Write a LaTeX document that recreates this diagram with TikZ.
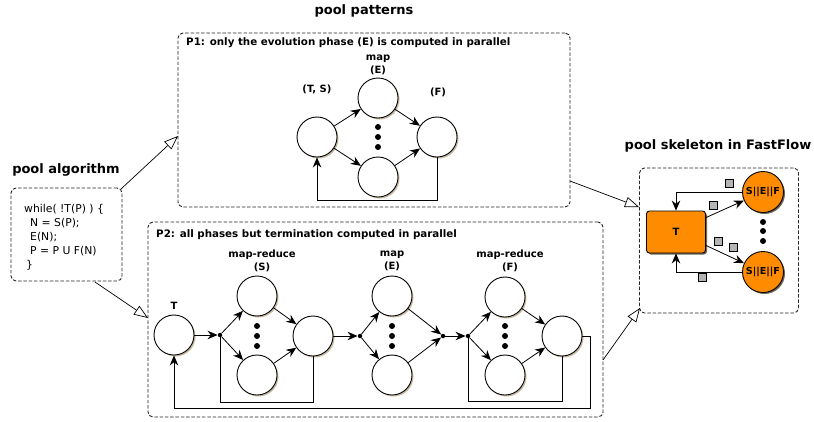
\documentclass[tikz,border=0pt]{standalone}
\usepackage{fontspec}
\setmainfont{DejaVu Sans}
\usetikzlibrary{arrows.meta,shadows}
\definecolor{shadowc}{RGB}{196,184,160}
\definecolor{ffor}{RGB}{255,140,0}
\definecolor{sqgray}{RGB}{180,180,180}
\tikzset{
  circ/.style={circle, draw, line width=0.9pt, fill=white, minimum size=40pt, inner sep=0pt,
    drop shadow={shadow xshift=1.5pt, shadow yshift=-1.5pt, fill=shadowc, opacity=1}},
  jdot/.style={circle, fill=black, inner sep=0pt, minimum size=4.5pt},
  vdot/.style={circle, fill=black, inner sep=0pt, minimum size=6pt},
  arr/.style={-{Stealth[length=10pt,width=8.5pt]}, line width=0.8pt},
  ln/.style={line width=0.8pt},
  openarr/.style={-{Triangle[open,length=14pt,width=10.5pt,fill=white]}, line width=0.7pt},
  dbox/.style={draw=black!85, dash pattern=on 3.5pt off 1.8pt, rounded corners=5pt, line width=0.9pt, inner sep=0pt},
  bigtitle/.style={font=\bfseries\fontsize{13}{16}\selectfont},
  boxtitle/.style={font=\bfseries\fontsize{10.3}{12}\selectfont, anchor=west, inner sep=0pt},
  lab/.style={font=\bfseries\fontsize{10}{13}\selectfont, align=center, inner sep=0pt},
  code/.style={font=\fontsize{10.8}{13}\selectfont, anchor=west, inner sep=0pt},
  ffcirc/.style={circle, draw, line width=0.9pt, fill=ffor, minimum size=41pt, inner sep=0pt,
    font=\bfseries\fontsize{9.6}{12}\selectfont,
    drop shadow={shadow xshift=1.5pt, shadow yshift=-1.5pt, fill=black!45!shadowc, opacity=1}},
  ffrect/.style={rectangle, draw, line width=0.9pt, fill=ffor, minimum width=59pt, minimum height=42pt,
    rounded corners=3pt, font=\bfseries\fontsize{10}{12}\selectfont,
    drop shadow={shadow xshift=1.5pt, shadow yshift=-1.5pt, fill=black!45!shadowc, opacity=1}},
  sq/.style={rectangle, draw, line width=0.6pt, fill=sqgray, minimum size=8pt, inner sep=0pt,
    drop shadow={shadow xshift=1pt, shadow yshift=-1pt, fill=black!45!shadowc, opacity=1}}
}
\begin{document}
\begin{tikzpicture}[x=1pt,y=-1pt]
\useasboundingbox (0,0) rectangle (814,421);

% ---------- pool algorithm ----------
\node[bigtitle] (talg) at (66,170) {pool algorithm};
\node[dbox, minimum width=111pt, minimum height=93pt] (alg) at (66.5,234.5) {};
\node[code] (l1) at (24,209) {while( !T(P) ) \{};
\node[code] (l2) at (30,223) {N = S(P);};
\node[code] (l3) at (30,237) {E(N);};
\node[code] (l4) at (30,251) {P = P U F(N)};
\node[code] (l5) at (26,265) {\}};

% ---------- pool patterns ----------
\node[bigtitle] (tpat) at (364,11) {pool patterns};

% P1 box
\node[dbox, minimum width=392pt, minimum height=174pt] (p1) at (374,120) {};
\node[boxtitle] (p1t) at (186,43) {P1: only the evolution phase (E) is computed in parallel};
\node[circ] (pl) at (317,137) {};
\node[circ] (pt) at (378,98) {};
\node[circ] (pb) at (378,177) {};
\node[circ] (pr) at (437,137) {};
\node[vdot] (pd1) at (378,127) {};
\node[vdot] (pd2) at (378,137) {};
\node[vdot] (pd3) at (378,147) {};
\node[lab] (plab1) at (378,65) {map\\(E)};
\node[lab] (plab2) at (317,89) {(T, S)};
\node[lab] (plab3) at (438,92) {(F)};
\draw[arr] (pl) -- (pt);
\draw[arr] (pl) -- (pb);
\draw[arr] (pt) -- (pr);
\draw[arr] (pb) -- (pr);
\draw[arr] (pr.south) -- ++(0,43) -| (pl.south);

% P2 box
\node[dbox, minimum width=455pt, minimum height=195pt] (p2) at (375.5,319.5) {};
\node[boxtitle] (p2t) at (156,235) {P2: all phases but termination computed in parallel};
\node[circ] (T) at (174,335) {};
\node[lab] (Tl) at (174,306) {T};
\node[jdot] (d1) at (220,335) {};
\node[circ] (s1) at (257,296) {};
\node[circ] (s2) at (257,375) {};
\node[vdot] (sd1) at (257,326) {};
\node[vdot] (sd2) at (257,336) {};
\node[vdot] (sd3) at (257,346) {};
\node[circ] (sr) at (313,336) {};
\node[lab] (sl) at (262,261) {map-reduce\\(S)};
\node[jdot] (d2) at (360,336) {};
\node[circ] (e1) at (392,296) {};
\node[circ] (e2) at (392,375) {};
\node[vdot] (ed1) at (392,326) {};
\node[vdot] (ed2) at (392,336) {};
\node[vdot] (ed3) at (392,346) {};
\node[lab] (el) at (392,261) {map\\(E)};
\node[jdot] (d3) at (443,336) {};
\node[jdot] (d4) at (468,336) {};
\node[circ] (f1) at (505,297) {};
\node[circ] (f2) at (505,375) {};
\node[vdot] (fd1) at (505,326) {};
\node[vdot] (fd2) at (505,336) {};
\node[vdot] (fd3) at (505,346) {};
\node[circ] (fr) at (562,336) {};
\node[lab] (fl) at (510,261) {map-reduce\\(F)};

\draw[arr] (T) -- (d1);
\draw[arr] (d1) -- (s1);
\draw[arr] (d1) -- (s2);
\draw[arr] (s1) -- (sr);
\draw[arr] (s2) -- (sr);
\draw[ln] (sr.south) -- ++(0,46) -| (d1);
\draw[arr] (sr) -- (d2);
\draw[arr] (d2) -- (e1);
\draw[arr] (d2) -- (e2);
\draw[arr] (e1) -- (d3);
\draw[arr] (e2) -- (d3);
\draw[arr] (d3) -- (d4);
\draw[arr] (d4) -- (f1);
\draw[arr] (d4) -- (f2);
\draw[arr] (f1) -- (fr);
\draw[arr] (f2) -- (fr);
\draw[ln] (fr.south) -- ++(0,45) -| (d4);
\coordinate (oc) at (590,408);
\draw[arr] (fr.east) -| (oc) -| (T.south);

% ---------- FastFlow ----------
\node[bigtitle] (tff) at (718,146) {pool skeleton in FastFlow};
\node[dbox, minimum width=159pt, minimum height=145pt] (ff) at (719,240.5) {};
\node[ffrect] (tt) at (676,232) {T};
\node[ffcirc] (c1) at (763,192) {S||E||F};
\node[ffcirc] (c2) at (763,272) {S||E||F};
\node[vdot] (cd1) at (763,222) {};
\node[vdot] (cd2) at (763,231) {};
\node[vdot] (cd3) at (763,241) {};
\draw[arr] ([yshift=-7pt]tt.north east) -- (c1);
\draw[arr] ([yshift=8pt]tt.south east) -- (c2);
\draw[arr] (c1.west) -| (tt.north);
\draw[arr] (c2.west) -| (tt.south);
\node[sq] (q1) at (729,183) {};
\node[sq] (q2) at (713,205) {};
\node[sq] (q3) at (718,241) {};
\node[sq] (q4) at (733,247) {};
\node[sq] (q5) at (702,277) {};

% ---------- connectors between boxes ----------
\coordinate (p1in) at (178,136);
\coordinate (p2in) at (148,318);
\coordinate (algout1) at (121,189);
\coordinate (algout2) at (95,282);
\coordinate (p1out) at (570,181);
\coordinate (p2out) at (603,360);
\coordinate (ffin1) at (639,207);
\coordinate (ffin2) at (640,308);
\draw[openarr] (algout1) -- (p1in);
\draw[openarr] (algout2) -- (p2in);
\draw[openarr] (p1out) -- (ffin1);
\draw[openarr] (p2out) -- (ffin2);
\end{tikzpicture}
\end{document}
